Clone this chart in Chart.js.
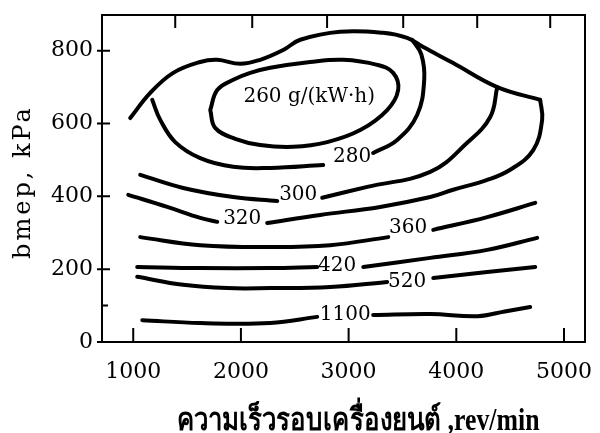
<!DOCTYPE html>
<html>
<head>
<meta charset="utf-8">
<script src="https://cdn.jsdelivr.net/npm/chart.js@4.4.0/dist/chart.umd.min.js"></script>
<style>
  html, body { margin: 0; padding: 0; background: #fff; }
</style>
</head>
<body>
<canvas id="c" width="600" height="433"></canvas>
<script>
// ticks
const xTicks = [1000, 2000, 3000, 4000, 5000];
const yTicks = [0, 200, 400, 600, 800];
const yMinorTicks = [100];
const topTicks = [1390, 2105, 2800, 3507, 4194, 4872];

// contour segments, [rev/min, bmep kPa]
const outerTop = [[972, 615], [1158, 684], [1371, 739], [1622, 769], [1780, 775], [1993, 764], [2179, 775],
  [2393, 802], [2551, 830], [2922, 852], [3321, 849], [3544, 835], [3693, 810], [3971, 766], [4380, 700], [4779, 665]];
const line320Right = [[4779, 665], [4797, 610], [4714, 527], [4500, 473], [4287, 445], [3971, 418], [3758, 398],
  [3293, 371], [2736, 349], [2244, 327]];
const line320Left = [[954, 404], [1316, 371], [1622, 341], [1780, 330]];
const line300Left = [[1065, 459], [1464, 423], [1929, 398], [2337, 387]];
const line300Right = [[2755, 396], [3173, 426], [3758, 467], [4101, 547], [4315, 618], [4380, 700]];
const line280Left = [[1176, 665], [1251, 610], [1390, 549], [1622, 505], [1929, 481], [2272, 478], [2764, 486]];
const line280Right = [[3228, 519], [3451, 555], [3637, 624], [3702, 720], [3675, 790], [3590, 830]];
const line260 = [[1715, 637], [1780, 692], [1929, 720], [2086, 739], [2272, 753], [2643, 769], [2950, 775],
  [3266, 761], [3414, 739], [3460, 692], [3358, 637], [3108, 582], [2801, 549], [2486, 536], [2179, 541],
  [1947, 558], [1761, 588], [1715, 637]];
const line360Left = [[1065, 288], [1622, 266], [2272, 261], [2829, 266], [3368, 288]];
const line360Right = [[3786, 308], [4287, 343], [4733, 382]];
const line420Left = [[1037, 206], [1622, 203], [2272, 203], [2708, 206]];
const line420Right = [[3136, 206], [3758, 231], [4287, 253], [4751, 286]];
const line520Left = [[1037, 179], [1464, 157], [1873, 148], [2272, 148], [2829, 151], [3358, 165]];
const line520Right = [[3786, 176], [4287, 192], [4733, 206]];
const line1100Left = [[1084, 60], [1622, 52], [2272, 52], [2708, 69]];
const line1100Right = [[3228, 74], [3758, 77], [4200, 71], [4450, 84], [4686, 96]];

// contour labels
const labelText = ['260 g/(kW·h)', '280', '300', '320', '360', '420', '520', '1100'];
const labelRpm = [2634, 3033, 2532, 2012, 3553, 2894, 3544, 2968];
const labelBmep = [673, 508, 404, 338, 313, 209, 165, 74];

const segments = [outerTop, line320Right, line320Left, line300Left, line300Right, line280Left, line280Right,
  line260, line360Left, line360Right, line420Left, line420Right, line520Left, line520Right, line1100Left, line1100Right];

const serif = '"DejaVu Serif", serif';

// drop the extra room Chart.js keeps for edge tick labels
function fixPadding(s) {
  s.paddingLeft = 0;
  s.paddingRight = 0;
  s.paddingTop = 0;
  s.paddingBottom = 0;
}

// frame, inward ticks, contour labels and axis titles
const framePlugin = {
  id: 'frame',
  afterDraw(chart) {
    const { ctx, chartArea: a, scales: { x, y } } = chart;
    ctx.save();
    ctx.strokeStyle = '#000';
    ctx.lineWidth = 2;
    ctx.strokeRect(a.left, a.top, a.right - a.left, a.bottom - a.top);
    ctx.beginPath();
    xTicks.forEach(v => {
      const px = x.getPixelForValue(v);
      ctx.moveTo(px, a.bottom);
      ctx.lineTo(px, a.bottom - 14);
    });
    topTicks.forEach(v => {
      const px = x.getPixelForValue(v);
      ctx.moveTo(px, a.top);
      ctx.lineTo(px, a.top + 13);
    });
    yTicks.forEach(v => {
      const py = y.getPixelForValue(v);
      ctx.moveTo(a.left - 5, py);
      ctx.lineTo(a.left + 8, py);
    });
    yMinorTicks.forEach(v => {
      const py = y.getPixelForValue(v);
      ctx.moveTo(a.left, py);
      ctx.lineTo(a.left + 6, py);
    });
    ctx.stroke();

    ctx.fillStyle = '#000';
    ctx.font = '20px ' + serif;
    ctx.textAlign = 'center';
    ctx.textBaseline = 'middle';
    labelText.forEach((t, i) => {
      ctx.fillText(t, x.getPixelForValue(labelRpm[i]), y.getPixelForValue(labelBmep[i]));
    });

    // y title
    ctx.save();
    ctx.translate(24, 182);
    ctx.rotate(-Math.PI / 2);
    ctx.font = '24px ' + serif;
    ctx.letterSpacing = '3px';
    ctx.fillText('bmep, kPa', 0, 0);
    ctx.restore();

    // x title, squeezed to the width of the original condensed face
    const xTitle = 'ความเร็วรอบเครื่องยนต์ ,rev/min';
    ctx.save();
    ctx.font = 'bold 31px "Liberation Serif", serif';
    ctx.textBaseline = 'alphabetic';
    const w = ctx.measureText(xTitle).width;
    ctx.translate(358, 430);
    ctx.scale(363 / w, 1);
    ctx.fillText(xTitle, 0, 0);
    ctx.restore();
    ctx.restore();
  }
};

new Chart(document.getElementById('c'), {
  type: 'scatter',
  data: {
    datasets: segments.map(seg => ({
      data: seg.map(p => ({ x: p[0], y: p[1] })),
      showLine: true,
      borderColor: '#000',
      borderWidth: 4,
      borderCapStyle: 'round',
      borderJoinStyle: 'round',
      pointRadius: 0,
      tension: 0.4,
      fill: false
    }))
  },
  options: {
    responsive: false,
    animation: false,
    devicePixelRatio: 1,
    layout: { padding: { top: 15, right: 15, left: 0, bottom: 0 } },
    plugins: { legend: { display: false }, tooltip: { enabled: false } },
    scales: {
      x: {
        type: 'linear',
        min: 710,
        max: 5195,
        afterBuildTicks: s => { s.ticks = xTicks.map(v => ({ value: v })); },
        afterFit: s => { s.height = 91; fixPadding(s); },
        grid: { display: false, drawTicks: false },
        border: { display: false },
        ticks: {
          color: '#000', font: { family: serif, size: 22 }, padding: 17, maxRotation: 0, autoSkip: false,
          callback: v => String(v)
        }
      },
      y: {
        type: 'linear',
        min: 0,
        max: 898,
        afterBuildTicks: s => { s.ticks = yTicks.map(v => ({ value: v })); },
        afterFit: s => { s.width = 102; fixPadding(s); },
        grid: { display: false, drawTicks: false },
        border: { display: false },
        ticks: {
          color: '#000', font: { family: serif, size: 22 }, padding: 9, autoSkip: false,
          callback: v => String(v)
        }
      }
    }
  },
  plugins: [framePlugin]
});
</script>
</body>
</html>
